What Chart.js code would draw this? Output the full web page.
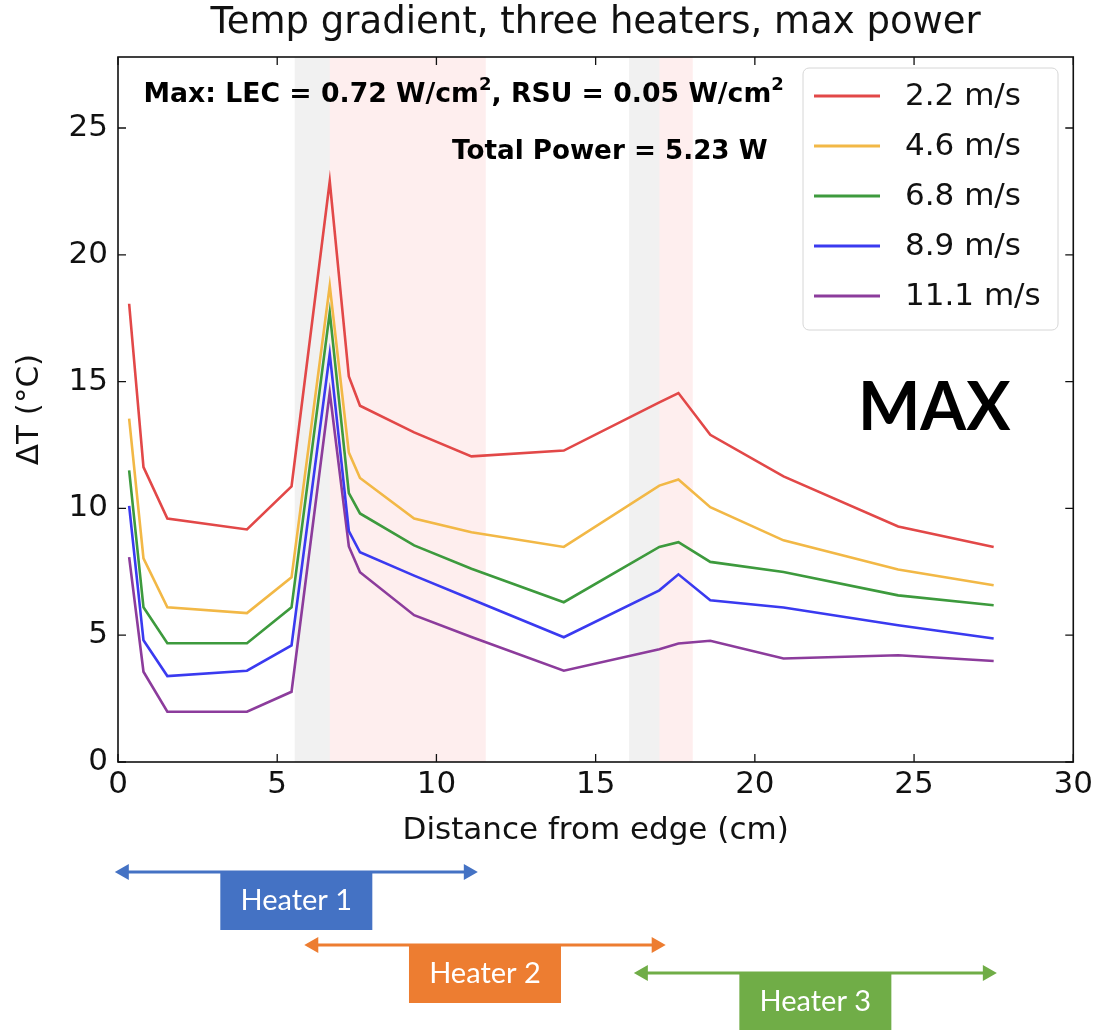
<!DOCTYPE html>
<html>
<head>
<meta charset="utf-8">
<script src="https://cdn.jsdelivr.net/npm/chart.js@4.4.1/dist/chart.umd.min.js"></script>
<style>
  body { margin: 0; background: #fff; }
  #wrap { width: 1097px; height: 1030px; position: relative; }
</style>
</head>
<body>
<div id="wrap"><canvas id="gradientChart"></canvas></div>
<script>
// distance from edge (cm) of each measuring point
const distanceCm = [0.35, 0.8, 1.55, 4.05, 5.45, 6.65, 7.25, 7.6, 9.3, 11.1, 14.0, 17.0, 17.6, 18.6, 20.9, 24.5, 27.5];

const speedLabels = ['2.2 m/s', '4.6 m/s', '6.8 m/s', '8.9 m/s', '11.1 m/s'];
const dT_2_2 = [18.07, 11.63, 9.6, 9.17, 10.87, 22.9, 15.2, 14.05, 13.0, 12.05, 12.28, 14.18, 14.55, 12.9, 11.26, 9.29, 8.48];
const dT_4_6 = [13.54, 8.03, 6.1, 5.87, 7.28, 18.78, 12.2, 11.2, 9.6, 9.06, 8.48, 10.9, 11.14, 10.05, 8.74, 7.59, 6.97];
const dT_6_8 = [11.5, 6.1, 4.68, 4.68, 6.1, 17.73, 10.6, 9.8, 8.54, 7.62, 6.3, 8.48, 8.67, 7.89, 7.49, 6.57, 6.18];
const dT_8_9 = [10.1, 4.8, 3.39, 3.6, 4.6, 16.1, 9.1, 8.27, 7.35, 6.42, 4.92, 6.77, 7.4, 6.38, 6.09, 5.39, 4.87];
const dT_11_1 = [8.08, 3.56, 1.98, 1.98, 2.77, 14.58, 8.5, 7.48, 5.79, 4.93, 3.6, 4.45, 4.67, 4.78, 4.08, 4.21, 3.98];

const xTickValues = [0, 5, 10, 15, 20, 25, 30];
const yTickValues = [0, 5, 10, 15, 20, 25];

// shaded bands (cm)
const graySpans = [[5.55, 6.65], [16.05, 17.0]];
const pinkSpans = [[6.65, 11.55], [17.0, 18.05]];

// heater extents (cm)
const heaterNames = ['Heater 1', 'Heater 2', 'Heater 3'];
const heaterFrom = [-0.1, 5.85, 16.2];
const heaterTo = [11.3, 17.2, 27.6];

const lineColors = ['#e24848', '#f2b846', '#3d9a3d', '#3a3af0', '#8c3c9c'];
const heaterColors = ['#4472c4', '#ed7d31', '#70ad47'];
const heaterRowY = [872, 945, 973];

const seriesValues = [dT_2_2, dT_4_6, dT_6_8, dT_8_9, dT_11_1];
const FONT = "'DejaVu Sans', sans-serif";

function drawSupText(ctx, parts, x, y, size) {
    let cx = x;
    parts.forEach(p => {
        if (p.sup) {
            ctx.font = `bold ${Math.round(size * 0.68)}px ${FONT}`;
            ctx.fillText(p.t, cx, y - size * 0.38);
        } else {
            ctx.font = `bold ${size}px ${FONT}`;
            ctx.fillText(p.t, cx, y);
        }
        cx += ctx.measureText(p.t).width;
    });
}

const decorPlugin = {
    id: 'decor',
    beforeDatasetsDraw(chart) {
        const { ctx, chartArea: a, scales: { x } } = chart;
        ctx.save();
        ctx.fillStyle = 'rgba(140,140,140,0.12)';
        graySpans.forEach(([s, e]) => {
            const p1 = x.getPixelForValue(s), p2 = x.getPixelForValue(e);
            ctx.fillRect(p1, a.top, p2 - p1, a.bottom - a.top);
        });
        ctx.fillStyle = 'rgba(245,90,90,0.1)';
        pinkSpans.forEach(([s, e]) => {
            const p1 = x.getPixelForValue(s), p2 = x.getPixelForValue(e);
            ctx.fillRect(p1, a.top, p2 - p1, a.bottom - a.top);
        });
        ctx.restore();
    },
    afterDatasetsDraw(chart) {
        const { ctx, chartArea: a, scales: { x, y } } = chart;
        ctx.save();
        // spines
        ctx.strokeStyle = '#111';
        ctx.lineWidth = 1.6;
        ctx.strokeRect(a.left, a.top, a.right - a.left, a.bottom - a.top);
        // inward ticks on all four sides
        ctx.lineWidth = 1.3;
        ctx.beginPath();
        xTickValues.forEach(v => {
            const px = x.getPixelForValue(v);
            ctx.moveTo(px, a.bottom); ctx.lineTo(px, a.bottom - 8);
            ctx.moveTo(px, a.top); ctx.lineTo(px, a.top + 8);
        });
        yTickValues.forEach(v => {
            const py = y.getPixelForValue(v);
            ctx.moveTo(a.left, py); ctx.lineTo(a.left + 8, py);
            ctx.moveTo(a.right, py); ctx.lineTo(a.right - 8, py);
        });
        ctx.stroke();

        // title, centred over the axes like matplotlib does
        ctx.fillStyle = '#111';
        ctx.textAlign = 'center';
        ctx.textBaseline = 'middle';
        ctx.font = `37px ${FONT}`;
        ctx.fillText('Temp gradient, three heaters, max power', (a.left + a.right) / 2, 23);

        // text annotations
        ctx.fillStyle = '#000';
        ctx.textAlign = 'left';
        drawSupText(ctx, [
            { t: 'Max: LEC = 0.72 W/cm' }, { t: '2', sup: true },
            { t: ', RSU = 0.05 W/cm' }, { t: '2', sup: true }
        ], x.getPixelForValue(0.8), y.getPixelForValue(26.3), 26.7);
        ctx.font = `bold 26.2px ${FONT}`;
        ctx.textAlign = 'right';
        ctx.fillText('Total Power = 5.23 W', x.getPixelForValue(20.4), y.getPixelForValue(24.05));

        // legend box
        const lx = 803, ly = 68, lw = 255, lh = 262;
        ctx.beginPath();
        ctx.roundRect(lx, ly, lw, lh, 6);
        ctx.fillStyle = 'rgba(255,255,255,0.85)';
        ctx.fill();
        ctx.strokeStyle = '#d6d6d6';
        ctx.lineWidth = 1;
        ctx.stroke();
        ctx.textAlign = 'left';
        ctx.font = `31px ${FONT}`;
        chart.data.datasets.forEach((ds, i) => {
            const ry = 96 + i * 50;
            ctx.strokeStyle = ds.borderColor;
            ctx.lineWidth = 3;
            ctx.beginPath();
            ctx.moveTo(814, ry); ctx.lineTo(880, ry);
            ctx.stroke();
            ctx.fillStyle = '#111';
            ctx.fillText(ds.label, 905, ry + 1);
        });

        // overlay label
        ctx.font = "bold 66px Lato, 'Open Sans', sans-serif";
        ctx.fillStyle = '#000';
        ctx.fillText('MAX', 858, 409);
        ctx.restore();
    },
    afterDraw(chart) {
        const { ctx, scales: { x } } = chart;
        ctx.save();
        heaterNames.forEach((name, i) => {
            const x1 = x.getPixelForValue(heaterFrom[i]);
            const x2 = x.getPixelForValue(heaterTo[i]);
            const ry = heaterRowY[i];
            const c = heaterColors[i];
            ctx.strokeStyle = c;
            ctx.fillStyle = c;
            ctx.lineWidth = 3;
            ctx.beginPath();
            ctx.moveTo(x1 + 10, ry); ctx.lineTo(x2 - 10, ry);
            ctx.stroke();
            ctx.beginPath();
            ctx.moveTo(x1, ry); ctx.lineTo(x1 + 14, ry - 8); ctx.lineTo(x1 + 14, ry + 8); ctx.closePath();
            ctx.moveTo(x2, ry); ctx.lineTo(x2 - 14, ry - 8); ctx.lineTo(x2 - 14, ry + 8); ctx.closePath();
            ctx.fill();
            const cx = (x1 + x2) / 2;
            ctx.fillRect(cx - 76, ry, 152, 58);
            ctx.fillStyle = '#fff';
            ctx.font = "29px Lato, 'Open Sans', sans-serif";
            ctx.textAlign = 'center';
            ctx.textBaseline = 'middle';
            ctx.fillText(name, cx, ry + 29);
        });
        ctx.restore();
    }
};

const datasets = speedLabels.map((label, i) => ({
    label: label,
    data: distanceCm.map((d, j) => ({ x: d, y: seriesValues[i][j] })),
    borderColor: lineColors[i],
    backgroundColor: lineColors[i],
    borderWidth: 2.6,
    pointRadius: 0,
    tension: 0,
    fill: false
}));

new Chart(document.getElementById('gradientChart'), {
    type: 'line',
    data: { datasets: datasets },
    options: {
        responsive: true,
        maintainAspectRatio: false,
        animation: false,
        layout: { padding: { top: 57, left: 0, right: 23, bottom: 180 } },
        plugins: {
            legend: { display: false },
            tooltip: { enabled: false },
            title: { display: false }
        },
        scales: {
            x: {
                type: 'linear',
                min: 0,
                max: 30,
                afterFit: s => { s.height = 88; },
                afterBuildTicks: s => { s.ticks = xTickValues.map(v => ({ value: v })); },
                grid: { display: false, drawTicks: false },
                border: { display: false },
                ticks: { color: '#111', padding: 4, maxRotation: 0, font: { family: FONT, size: 31 } },
                title: {
                    display: true,
                    text: 'Distance from edge (cm)',
                    color: '#111',
                    font: { family: FONT, size: 31 },
                    padding: { top: 0, bottom: 0 }
                }
            },
            y: {
                min: 0,
                max: 27.8,
                afterFit: s => { s.width = 118; },
                afterBuildTicks: s => { s.ticks = yTickValues.map(v => ({ value: v })); },
                grid: { display: false, drawTicks: false },
                border: { display: false },
                ticks: { color: '#111', padding: 10, font: { family: FONT, size: 31 } },
                title: {
                    display: true,
                    text: 'ΔT (°C)',
                    color: '#111',
                    font: { family: FONT, size: 31 },
                    padding: { top: 11, bottom: 0 }
                }
            }
        }
    },
    plugins: [decorPlugin]
});
</script>
</body>
</html>
